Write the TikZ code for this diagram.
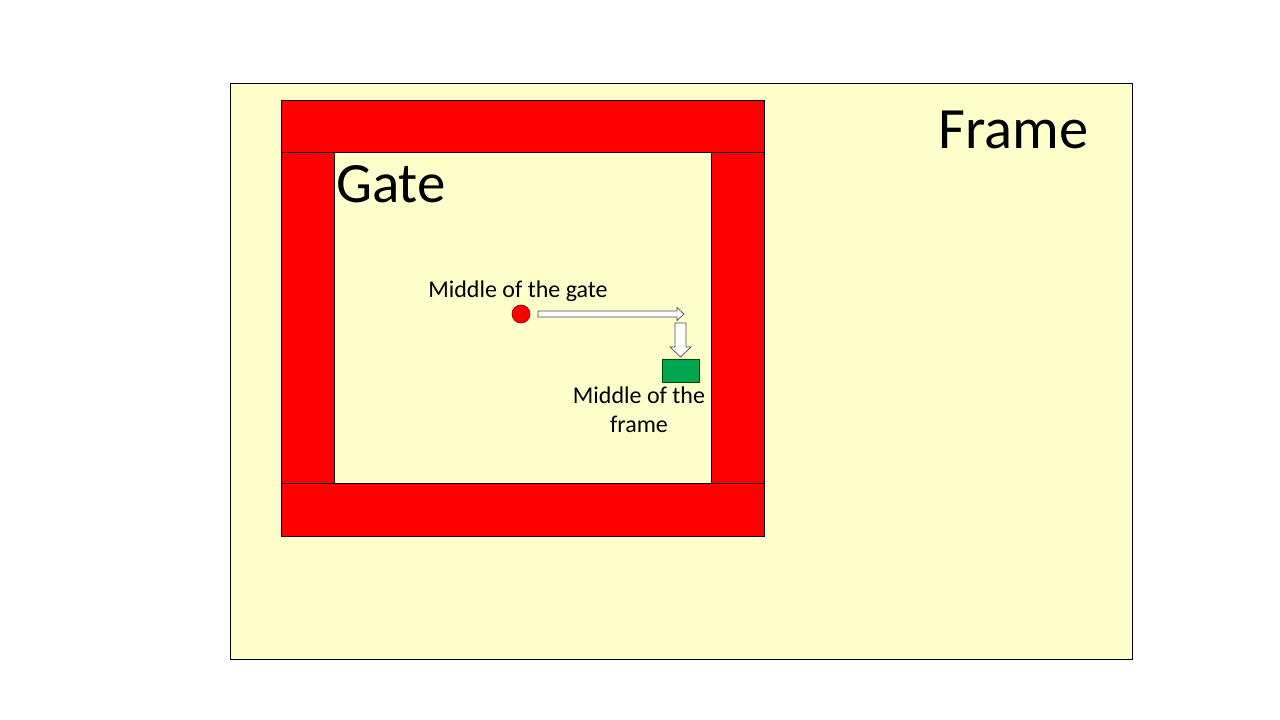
\documentclass[tikz,border=0pt]{standalone}
\usepackage{fontspec}
\setmainfont{Carlito}
\definecolor{bgyellow}{HTML}{FFFFCC}
\definecolor{gred}{HTML}{FF0000}
\definecolor{mgreen}{HTML}{00A550}
\begin{document}
\begin{tikzpicture}[x=1pt,y=-1pt,
  barbox/.style={draw=black,line width=0.8pt,fill=gred},
  blockarrow/.style={draw=black!70,line width=0.7pt,fill=white},
  lbl/.style={font=\fontsize{24}{29}\selectfont,inner sep=0pt,align=center},
  big/.style={font=\fontsize{57}{60}\selectfont,inner sep=0pt}]
\useasboundingbox (0,0) rectangle (1280,720);
\fill[white] (0,0) rectangle (1280,720);
% frame
\draw[fill=bgyellow,line width=0.8pt] (230,83) rectangle (1132,659);
% gate bars
\draw[barbox] (281,100) rectangle (764,152);
\draw[barbox] (281,152) rectangle (334,483);
\draw[barbox] (711,152) rectangle (764,483);
\draw[barbox] (281,483) rectangle (764,536);
% labels
\node[big,anchor=base west,font=\fontsize{58.5}{60}\selectfont] (frame) at (938,148) {Frame};
\node[big,anchor=base west] (gate) at (336,202) {Gate};
% middle of gate
\node[circle,draw=red!60!black,fill=gred,line width=0.7pt,minimum size=18pt,inner sep=0pt] (mg) at (521,314) {};
\node[lbl,anchor=base] (mgl) at (518,297) {Middle of the gate};
% middle of frame
\node[draw=green!30!black,fill=mgreen,line width=0.7pt,minimum width=37pt,minimum height=23pt,inner sep=0pt] (mf) at (680.5,370.5) {};
\node[lbl,anchor=base] (mfl1) at (639,403) {Middle of the};
\node[lbl,anchor=base] (mfl2) at (639,432) {frame};
% block arrows
\draw[blockarrow] (538,311) -- (677,311) -- (677,307.5) -- (684,314) -- (677,320.5) -- (677,317) -- (538,317) -- cycle;
\draw[blockarrow] (675,323) -- (686,323) -- (686,347) -- (691,347) -- (680.5,357) -- (670,347) -- (675,347) -- cycle;
\end{tikzpicture}
\end{document}
